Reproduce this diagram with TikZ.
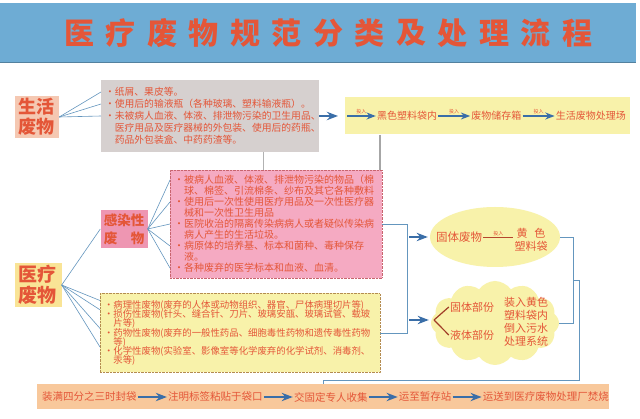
\documentclass[tikz,border=0pt]{standalone}
\usepackage{fontspec}
\setmainfont{Noto Sans CJK SC}
\usetikzlibrary{arrows.meta, positioning, shapes.geometric, shapes.symbols}

\definecolor{titleblue}{RGB}{110,172,212}
\definecolor{wastered}{RGB}{228,86,56}
\definecolor{graybg}{RGB}{214,208,207}
\definecolor{lightyellow}{RGB}{248,242,170}
\definecolor{pinkbg}{RGB}{245,170,194}
\definecolor{pinklabel}{RGB}{238,150,178}
\definecolor{peach}{RGB}{245,200,178}
\definecolor{lemon}{RGB}{249,228,150}
\definecolor{barorange}{RGB}{248,200,155}
\definecolor{linkblue}{RGB}{100,150,190}
\definecolor{arrowblue}{RGB}{58,110,168}
\definecolor{dotred}{RGB}{200,100,110}
\definecolor{dotbrown}{RGB}{180,140,80}

\begin{document}
\begin{tikzpicture}[x=1pt, y=-1pt,
    heading/.style={text=wastered, font=\fontsize{30}{30}\selectfont\bfseries, inner sep=0pt},
    kind/.style={rectangle, text=wastered, align=center, inner sep=2pt},
    listbox/.style={rectangle, text=wastered, align=left, inner xsep=4pt, inner ysep=2pt},
    link/.style={draw=linkblue, line width=0.6pt},
    flow/.style={-Stealth, line width=1.8pt, draw=arrowblue},
    dropin/.style={-Stealth, line width=1.4pt, draw=arrowblue},
    puttag/.style={font=\fontsize{5}{5}\selectfont, text=wastered, inner sep=1pt},
    stepword/.style={text=wastered, font=\fontsize{10}{12}\selectfont, inner sep=1pt},
    partword/.style={text=wastered, font=\fontsize{11}{12.5}\selectfont, inner sep=1pt},
    forkline/.style={draw=wastered!70!black, line width=1.2pt}
]
    \fill[white] (0,0) rectangle (640,419);
    \useasboundingbox (0,0) rectangle (640,419);

    % title
    \node[fill=titleblue, minimum width=636pt, minimum height=59pt, anchor=north west, inner sep=0pt] (banner) at (0,3) {};
    \draw[titleblue!75!black, line width=1.2pt] (banner.south west) -- (banner.south east);
    \foreach \ch [count=\i] in {医,疗,废,物,规,范,分,类,及,处,理,流,程}
        \node[heading] (t\i) at ({79+(\i-1)*41.5}, 33) {\ch};

    % domestic waste
    \node[kind, fill=peach, minimum width=44pt, minimum height=39pt, font=\fontsize{18}{20}\selectfont\bfseries] (life) at (37,117) {生活\\废物};
    \node[listbox, fill=graybg, text width=210pt, minimum height=72pt, font={\fontsize{9.8}{12}\selectfont\lineskiplimit=-5pt}] (lifelist) at (210,116)
        {•纸屑、果皮等。\\
         •使用后的输液瓶（各种玻璃、塑料输液瓶）。\\
         •未被病人血液、体液、排泄物污染的卫生用品、\\
         \phantom{•}医疗用品及医疗器械的外包装、使用后的药瓶、\\
         \phantom{•}药品外包装盒、中药药渣等。};
    \foreach \y [count=\k] in {92,104,116} {
        \coordinate (l\k) at (101,\y);
        \draw[link] (life.east) -- (l\k);
    }

    \coordinate (gap) at (338,116);
    \draw[flow] (lifelist) -- (gap);
    \node[fill=lightyellow, minimum width=285pt, minimum height=37pt, inner sep=0pt] (lifeflow) at (487,116) {};
    \coordinate (feed) at (347,116);
    \node[stepword] (blackbag) at (407,116) {黑色塑料袋内};
    \node[stepword, right=32pt of blackbag] (store) {废物储存箱};
    \node[stepword, right=32pt of store] (dump) {生活废物处理场};
    \draw[dropin] (feed) -- node[puttag, above] {投入} (blackbag);
    \draw[dropin] (blackbag) -- node[puttag, above] {投入} (store);
    \draw[dropin] (store) -- node[puttag, above] {投入} (dump);

    % frame lines
    \draw[gray!60, line width=0.5pt] (263,152) -- (263,170);
    \draw[gray!70, line width=2.5pt] (380,135) -- (380,170);

    % medical waste
    \node[kind, fill=lemon, minimum width=47pt, minimum height=40pt, font=\fontsize{19}{21}\selectfont\bfseries] (medical) at (38,285) {医疗\\废物};
    \node[kind, fill=pinklabel, minimum width=47pt, minimum height=38pt, font=\fontsize{13.5}{18}\selectfont\bfseries] (infect) at (124,229) {感染性\\废\hspace{1em}物};
    \node[listbox, fill=pinkbg, draw=dotred, densely dotted, text width=204pt, minimum height=108pt, font={\fontsize{10}{11}\selectfont\lineskiplimit=-5pt}] (infectlist) at (276,224)
        {•被病人血液、体液、排泄物污染的物品（棉\\
         \phantom{•}球、棉签、引流棉条、纱布及其它各种敷料\\
         •使用后一次性使用医疗用品及一次性医疗器\\
         \phantom{•}械和一次性卫生用品\\
         •医院收治的隔离传染病病人或者疑似传染病\\
         \phantom{•}病人产生的生活垃圾。\\
         •病原体的培养基、标本和菌种、毒种保存\\
         \phantom{•}液。\\
         •各种废弃的医学标本和血液、血清。};
    \node[listbox, fill=lightyellow, draw=dotbrown, densely dotted, text width=272pt, minimum height=79pt, font={\fontsize{9.4}{9.3}\selectfont\lineskiplimit=-5pt}] (otherlist) at (240,333)
        {•病理性废物(废弃的人体或动物组织、器官、尸体病理切片等)\\
         •损伤性废物(针头、缝合针、刀片、玻璃安瓿、玻璃试管、载玻\\
         \phantom{•}片等)\\
         •药物性废物(废弃的一般性药品、细胞毒性药物和遗传毒性药物\\
         \phantom{•}等)\\
         •化学性废物(实验室、影像室等化学废弃的化学试剂、消毒剂、\\
         \phantom{•}汞等)};

    \draw[link] (medical.east) -- (infect.west);
    \foreach \y [count=\k] in {300.5,309.8,328.4,347} {
        \coordinate (m\k) at (100,\y);
        \draw[link] (medical.east) -- (m\k);
    }
    \foreach \y [count=\k] in {180,202,224,246,268} {
        \coordinate (i\k) at (170,\y);
        \draw[link] (infect.east) -- (i\k);
    }

    % treatment
    \draw[link] (infectlist.east) -- (407,224) -- (407,333) -- (otherlist.east);
    \node[ellipse, fill=lightyellow, minimum width=130pt, minimum height=60pt] (solidell) at (495,237) {};
    \node[cloud, cloud puffs=12, cloud puff arc=110, aspect=1.5, fill=lightyellow, minimum width=128pt, minimum height=84pt, inner sep=0pt] (liquidcloud) at (495,323) {};
    \coordinate (a1) at (409,237);
    \coordinate (a2) at (409,320);
    \draw[flow, shorten >=2pt] (a1) -- (solidell.west);
    \draw[flow, shorten >=2pt] (a2) -- (a2 -| liquidcloud.west);

    \node[partword, font=\fontsize{11.5}{13}\selectfont] (solidwaste) at (459,237) {固体废物};
    \node[partword, align=center] (yellowbag) at (531,240) {黄\hspace{0.6em}色\\塑料袋};
    \draw[draw=wastered!80!black, line width=0.8pt] (solidwaste.east) -- node[puttag, above] {投入} (solidwaste.east -| yellowbag.west);

    \node[partword] (solidpart) at (472,307) {固体部份};
    \node[partword] (liquidpart) at (472,335) {液体部份};
    \node[partword, align=center] (bagin) at (526,309) {装入黄色\\塑料袋内};
    \node[partword, align=center] (sewer) at (526,335) {倒入污水\\处理系统};
    \coordinate (fork) at (434,320);
    \draw[forkline] (fork) -- (solidpart.west);
    \draw[forkline] (fork) -- (liquidpart.west);

    % bottom chain
    \node[fill=barorange, minimum width=572pt, minimum height=25pt, inner sep=0pt] (bar) at (323,397) {};
    \draw[link] (solidell.east) -- (573,237) -- (573,323) -- (liquidcloud.east);
    \coordinate (merge) at (573,280);
    \draw[link] (merge) -- (579,280) -- (579,380) -| (bar.north);

    \node[stepword, font=\fontsize{10.5}{12}\selectfont, anchor=west] (seal) at (41,397) {装满四分之三时封袋};
    \node[stepword, font=\fontsize{10.5}{12}\selectfont, right=29pt of seal] (label) {注明标签粘贴于袋口};
    \node[stepword, font=\fontsize{10.5}{12}\selectfont, right=29pt of label] (collect) {交固定专人收集};
    \node[stepword, font=\fontsize{10.5}{12}\selectfont, right=29pt of collect] (station) {运至暂存站};
    \node[stepword, font=\fontsize{10.5}{12}\selectfont, right=29pt of station] (burn) {运送到医疗废物处理厂焚烧};
    \draw[flow] (seal) -- (label);
    \draw[flow] (label) -- (collect);
    \draw[flow] (collect) -- (station);
    \draw[flow] (station) -- (burn);
\end{tikzpicture}
\end{document}
